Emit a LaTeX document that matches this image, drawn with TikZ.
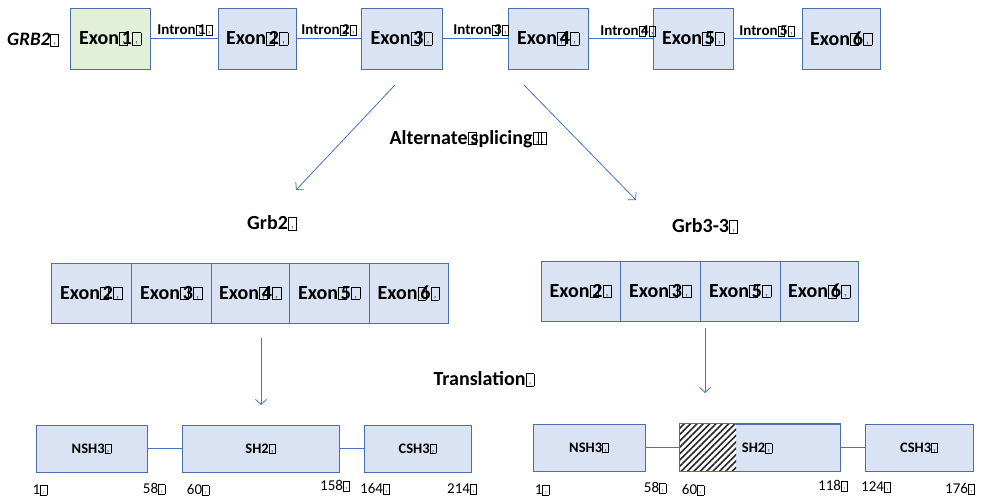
\documentclass[tikz,border=0pt]{standalone}
\usepackage{fontspec}
\setmainfont{Carlito}
\usetikzlibrary{arrows.meta,patterns.meta}
\definecolor{boxfill}{HTML}{DAE3F3}
\definecolor{greenfill}{HTML}{E2F0D9}
\definecolor{boxline}{HTML}{4A6FA8}
\definecolor{conn}{HTML}{4472C4}
\newcommand\qb{{\fboxsep=0pt\fboxrule=0.45pt\fbox{\makebox[0.4em]{\rule{0pt}{0.6em}\fontsize{4}{4}\selectfont ?}}}}
\newcommand\ex[1]{Exon\qb\kern-0.3em#1\qb}
\tikzset{
  exbox/.style={draw=boxline, line width=0.8pt, fill=boxfill, inner sep=0pt, font=\bfseries\fontsize{20}{22}\selectfont},
  pbox/.style={draw=boxline, line width=0.8pt, fill=boxfill, inner sep=0pt, font=\bfseries\fontsize{14.5}{16}\selectfont},
  conline/.style={draw=conn, line width=0.9pt},
  arr/.style={draw=conn, line width=0.8pt, -{Straight Barb[length=5pt,width=11pt]}},
  lab/.style={font=\bfseries\fontsize{20}{22}\selectfont, inner sep=0pt},
  intr/.style={font=\bfseries\fontsize{15}{17}\selectfont, inner sep=0pt, text=black},
  num/.style={font=\fontsize{15}{17}\selectfont, inner sep=0pt}
}
\begin{document}
\begin{tikzpicture}[x=1pt,y=-1pt]
\useasboundingbox[fill=white] (0,0) rectangle (989,497);
% top gene
\node[font=\bfseries\itshape\fontsize{19}{21}\selectfont, inner sep=0pt] (grb) at (33,40) {GRB2\qb};
\node[exbox, fill=greenfill, minimum width=80pt, minimum height=61pt] (e1) at (110,38.5) {\ex{1}};
\node[exbox, minimum width=78pt, minimum height=61pt] (e2) at (257,38.5) {\ex{2}};
\node[exbox, minimum width=81pt, minimum height=61pt] (e3) at (401.5,38.5) {\ex{3}};
\node[exbox, minimum width=80pt, minimum height=61pt] (e4) at (548,38.5) {\ex{4}};
\node[exbox, minimum width=80pt, minimum height=61pt] (e5) at (693,38.5) {\ex{5}};
\node[exbox, minimum width=78pt, minimum height=61pt] (e6) at (841,38.5) {\ex{6}};
\draw[conline] (e1) -- (e2);
\draw[conline] (e2) -- (e3);
\draw[conline] (e3) -- (e4);
\draw[conline] (e4) -- (e5);
\draw[conline] (e5) -- (e6);
\node[intr] (i1) at (185,30) {Intron\qb\kern-0.3em1\qb};
\node[intr] (i2) at (329,30) {Intron\qb\kern-0.3em2\qb};
\node[intr] (i3) at (481,30) {Intron\qb\kern-0.3em3\qb};
\node[intr] (i4) at (628,31) {Intron\qb\kern-0.3em4\qb};
\node[intr] (i5) at (767,31) {Intron\qb\kern-0.3em5\qb};
% splicing arrows
\coordinate (s1) at (395,85);
\coordinate (t1) at (296,190);
\coordinate (s2) at (524,85);
\coordinate (t2) at (636,200);
\draw[arr] (s1) -- (t1);
\draw[arr] (s2) -- (t2);
\node[lab] (alt) at (468,139) {Alternate\qb\kern-0.3em splicing\qb\kern-0.2em\qb};
\node[lab] (g2) at (272,223) {Grb2\qb};
\node[lab] (g33) at (705,226) {Grb3-3\qb};
% Grb2 transcript
\node[exbox, minimum width=80pt, minimum height=60pt] (a2) at (91,293) {\ex{2}};
\node[exbox, minimum width=80pt, minimum height=60pt] (a3) at (171,293) {\ex{3}};
\node[exbox, minimum width=78pt, minimum height=60pt] (a4) at (250,293) {\ex{4}};
\node[exbox, minimum width=80pt, minimum height=60pt] (a5) at (329,293) {\ex{5}};
\node[exbox, minimum width=79pt, minimum height=60pt] (a6) at (408.5,293) {\ex{6}};
% Grb3-3 transcript
\node[exbox, minimum width=79pt, minimum height=60pt] (b2) at (580.5,291) {\ex{2}};
\node[exbox, minimum width=80pt, minimum height=60pt] (b3) at (660,291) {\ex{3}};
\node[exbox, minimum width=80pt, minimum height=60pt] (b5) at (740,291) {\ex{5}};
\node[exbox, minimum width=78pt, minimum height=60pt] (b6) at (819,291) {\ex{6}};
% translation arrows
\coordinate (u1) at (261,338);
\coordinate (v1) at (261,405);
\coordinate (u2) at (705,328);
\coordinate (v2) at (705,393);
\draw[arr] (u1) -- (v1);
\draw[arr] (u2) -- (v2);
\node[lab] (tr) at (484,379) {Translation\qb};
% Grb2 protein
\node[pbox, minimum width=111pt, minimum height=47pt] (n1) at (91.5,448.5) {NSH3\qb};
\node[pbox, minimum width=157pt, minimum height=47pt] (h1) at (260.5,448.5) {SH2\qb};
\node[pbox, minimum width=107pt, minimum height=47pt] (c1) at (417.5,448.5) {CSH3\qb};
\draw[conline] (n1.east) -- (h1.west);
\draw[conline] (h1.east) -- (c1.west);
\node[num] (p1) at (40,490) {1\qb};
\node[num] (p2) at (154,489) {58\qb};
\node[num] (p3) at (198,490) {60\qb};
\node[num] (p4) at (335,486) {158\qb};
\node[num] (p5) at (375,489) {164\qb};
\node[num] (p6) at (462,489) {214\qb};
% Grb3-3 protein
\node[pbox, minimum width=112pt, minimum height=47pt] (n2) at (589,447.5) {NSH3\qb};
\node[pbox, minimum width=160pt, minimum height=47pt] (h2) at (760,447.5) {};
\coordinate (hh1) at (680,424);
\coordinate (hh2) at (736,471);
\fill[white] (hh1) rectangle (hh2);
\fill[pattern={Lines[angle=45,distance=4.5pt,line width=1.6pt]}, pattern color=black!85] (hh1) rectangle (hh2);
\draw[draw=boxline, line width=0.8pt] (h2.south west) rectangle (h2.north east);
\node[font=\bfseries\fontsize{14.5}{16}\selectfont, inner sep=0pt] (h2t) at (757,448) {SH2\qb};
\node[pbox, minimum width=108pt, minimum height=47pt] (c2) at (919,447.5) {CSH3\qb};
\draw[conline] (n2.east) -- (h2.west);
\draw[conline] (h2.east) -- (c2.west);
\node[num] (q1) at (542,490) {1\qb};
\node[num] (q2) at (655,488) {58\qb};
\node[num] (q3) at (693,490) {60\qb};
\node[num] (q4) at (833,486) {118\qb};
\node[num] (q5) at (876,487) {124\qb};
\node[num] (q6) at (960,489) {176\qb};
\end{tikzpicture}
\end{document}
